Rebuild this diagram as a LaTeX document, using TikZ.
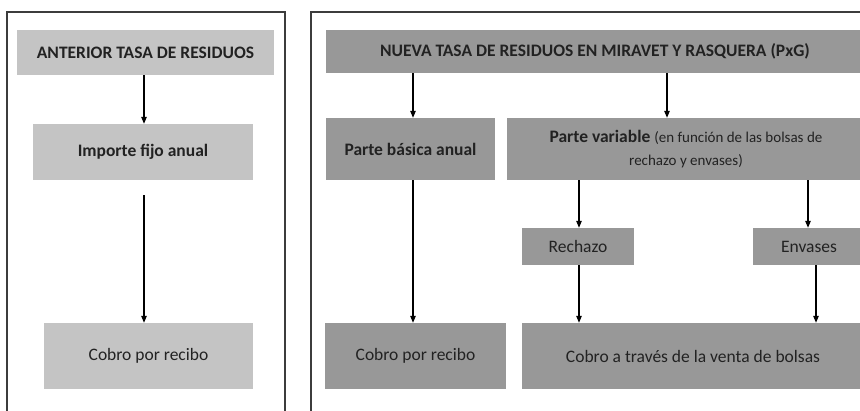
\documentclass[tikz,border=0pt]{standalone}
\usepackage{fontspec}
\setmainfont{Carlito}
\usetikzlibrary{arrows.meta}
\definecolor{lightbox}{RGB}{196,196,196}
\definecolor{darkbox}{RGB}{152,152,152}
\definecolor{txt}{RGB}{34,34,34}
\definecolor{framec}{RGB}{60,60,60}
\begin{document}
\begin{tikzpicture}[x=1pt,y=-1pt,
  box/.style={draw=none,inner sep=0pt,align=center,text=txt,font=\fontsize{17.5}{23}\selectfont},
  lbox/.style={box,fill=lightbox},
  dbox/.style={box,fill=darkbox},
  frm/.style={draw=framec,line width=1.3pt},
  arr/.style={draw=black,line width=1.2pt,-{Triangle[length=7pt,width=5.5pt]}}]
\useasboundingbox (0,0) rectangle (860,411);
\clip (0,0) rectangle (860,411);
% frames
\draw[frm] (7,12) rectangle (285,430);
\draw[frm] (311,12) rectangle (890,430);
% left boxes
\node[lbox,minimum width=257pt,minimum height=45pt] (hdrL) at (145.5,52.5) {\textbf{ANTERIOR TASA DE RESIDUOS}};
\node[lbox,minimum width=220pt,minimum height=56pt] (imp) at (143,152) {\textbf{Importe fijo anual}};
\node[lbox,minimum width=209pt,minimum height=66pt] (cobL) at (148.5,356) {Cobro por recibo};
% right boxes
\node[dbox,minimum width=538pt,minimum height=43pt] (hdrR) at (595,51.5) {\textbf{NUEVA TASA DE RESIDUOS EN MIRAVET Y RASQUERA (PxG)}};
\node[dbox,minimum width=169pt,minimum height=62pt] (bas) at (410.5,149) {\textbf{Parte básica anual}};
\node[dbox,minimum width=358pt,minimum height=62pt] (var) at (686,149) {\textbf{Parte variable} {\fontsize{15}{23}\selectfont(en función de las bolsas de}\\{\fontsize{15}{23}\selectfont rechazo y envases)}};
\node[dbox,minimum width=112pt,minimum height=37pt] (rech) at (578,246.5) {Rechazo};
\node[dbox,minimum width=112pt,minimum height=37pt] (env) at (809,246.5) {Envases};
\node[dbox,minimum width=181pt,minimum height=66pt] (cobR) at (415.5,356) {Cobro por recibo};
\node[dbox,minimum width=342pt,minimum height=66pt] (venta) at (693,356) {Cobro a través de la venta de bolsas};
% arrows left
\draw[arr] (hdrL.south -| 144,0) -- (imp.north -| 144,0);
\draw[arr] ([yshift=-15pt]imp.south -| 144,0) -- (cobL.north -| 144,0);
% arrows right
\draw[arr] (hdrR.south -| 413,0) -- (bas.north -| 413,0);
\draw[arr] (hdrR.south -| 667,0) -- (var.north -| 667,0);
\draw[arr] (bas.south -| 413,0) -- (cobR.north -| 413,0);
\draw[arr] (var.south -| 579,0) -- (rech.north -| 579,0);
\draw[arr] (var.south -| 808,0) -- (env.north -| 808,0);
\draw[arr] (rech.south -| 579,0) -- (venta.north -| 579,0);
\draw[arr] (env.south -| 816,0) -- (venta.north -| 816,0);
\end{tikzpicture}
\end{document}
